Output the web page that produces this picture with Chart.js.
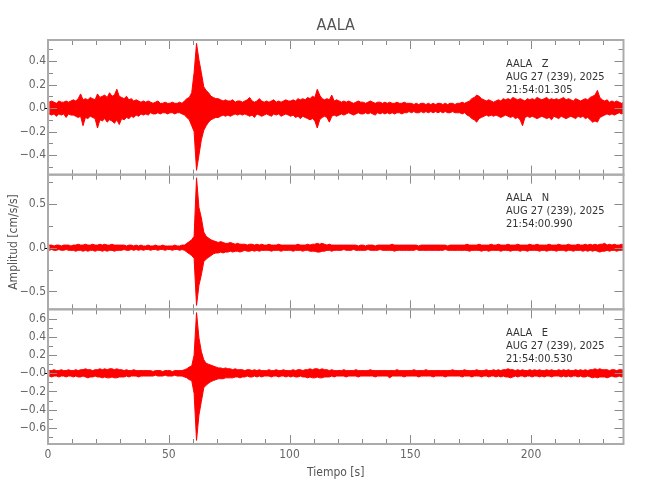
<!DOCTYPE html>
<html>
<head>
<meta charset="utf-8">
<script src="https://cdn.jsdelivr.net/npm/chart.js@4.4.1/dist/chart.umd.min.js"></script>
<style>
  html, body { margin: 0; padding: 0; background: #fff; }
  #wrap { width: 650px; height: 500px; }
</style>
</head>
<body>
<div id="wrap"><canvas id="seis" width="650" height="500"></canvas></div>
<script>
// station / header text
const station = "AALA";
const components = ["Z", "N", "E"];
const dateLabel = "AUG 27 (239), 2025";
const startTimes = ["21:54:01.305", "21:54:00.990", "21:54:00.530"];

// time axis (s)
const timeMax = 238.3;
const xTicks = [0, 10, 20, 30, 40, 50, 60, 70, 80, 90, 100, 110, 120, 130, 140, 150, 160, 170, 180, 190, 200, 210, 220, 230];
const xTickLabels = [0, 50, 100, 150, 200];

// amplitude axes (cm/s/s)
const zRange = [-0.567, 0.579];
const zTicks = [-0.5, -0.4, -0.3, -0.2, -0.1, 0, 0.1, 0.2, 0.3, 0.4, 0.5];
const zTickLabels = ["", "\u22120.4", "", "\u22120.2", "", "0.0", "", "0.2", "", "0.4", ""];
const nRange = [-0.705, 0.836];
const nTicks = [-0.5, -0.25, 0, 0.25, 0.5, 0.75];
const nTickLabels = ["\u22120.5", "", "0.0", "", "0.5", ""];
const eRange = [-0.78, 0.706];
const eTicks = [-0.7, -0.6, -0.5, -0.4, -0.3, -0.2, -0.1, 0, 0.1, 0.2, 0.3, 0.4, 0.5, 0.6];
const eTickLabels = ["", "\u22120.6", "", "\u22120.4", "", "\u22120.2", "", "\u22120.0", "", "0.2", "", "0.4", "", "0.6"];

// max / min of the trace in each 1 s window (0..238 s)
const zHi = [
  0.05,0.06,0.05,0.04,0.06,0.05,0.05,0.06,0.05,0.06,
  0.07,0.06,0.08,0.12,0.07,0.08,0.07,0.09,0.08,0.07,
  0.12,0.09,0.10,0.11,0.09,0.13,0.10,0.11,0.16,0.10,
  0.09,0.08,0.10,0.07,0.08,0.06,0.07,0.06,0.05,0.06,
  0.05,0.06,0.05,0.04,0.05,0.06,0.04,0.04,0.05,0.04,
  0.04,0.05,0.04,0.04,0.05,0.04,0.06,0.08,0.09,0.13,
  0.30,0.55,0.41,0.30,0.18,0.15,0.13,0.10,0.09,0.08,
  0.08,0.07,0.06,0.07,0.06,0.06,0.07,0.05,0.06,0.06,
  0.05,0.06,0.07,0.09,0.06,0.05,0.06,0.08,0.06,0.05,
  0.06,0.05,0.06,0.07,0.05,0.06,0.05,0.06,0.07,0.06,
  0.06,0.07,0.06,0.08,0.07,0.08,0.07,0.09,0.08,0.10,
  0.09,0.16,0.11,0.08,0.07,0.08,0.07,0.11,0.06,0.07,
  0.06,0.05,0.06,0.05,0.06,0.05,0.04,0.05,0.06,0.05,
  0.05,0.04,0.05,0.06,0.05,0.04,0.05,0.05,0.04,0.05,
  0.04,0.05,0.04,0.04,0.05,0.04,0.04,0.05,0.04,0.04,
  0.04,0.03,0.04,0.03,0.04,0.04,0.03,0.04,0.03,0.04,
  0.03,0.04,0.04,0.03,0.04,0.03,0.04,0.04,0.03,0.04,
  0.04,0.05,0.04,0.05,0.06,0.08,0.09,0.11,0.10,0.08,
  0.07,0.06,0.07,0.06,0.05,0.06,0.07,0.06,0.08,0.07,
  0.08,0.07,0.09,0.08,0.07,0.08,0.07,0.06,0.08,0.07,
  0.08,0.07,0.09,0.08,0.07,0.08,0.09,0.07,0.08,0.07,
  0.08,0.07,0.08,0.09,0.07,0.08,0.07,0.06,0.08,0.07,
  0.06,0.07,0.08,0.07,0.09,0.10,0.11,0.15,0.09,0.07,
  0.06,0.07,0.05,0.06,0.05,0.06,0.05,0.04,0.05
];
const zLo = [
  -0.05,-0.06,-0.05,-0.07,-0.05,-0.06,-0.05,-0.08,-0.05,-0.06,
  -0.06,-0.07,-0.08,-0.07,-0.15,-0.08,-0.09,-0.07,-0.08,-0.09,
  -0.17,-0.10,-0.11,-0.09,-0.12,-0.10,-0.11,-0.13,-0.10,-0.14,
  -0.09,-0.10,-0.08,-0.09,-0.07,-0.08,-0.06,-0.07,-0.05,-0.06,
  -0.05,-0.06,-0.04,-0.05,-0.05,-0.04,-0.05,-0.04,-0.04,-0.05,
  -0.04,-0.04,-0.05,-0.04,-0.04,-0.05,-0.06,-0.08,-0.10,-0.15,
  -0.20,-0.53,-0.40,-0.27,-0.19,-0.15,-0.12,-0.10,-0.09,-0.08,
  -0.08,-0.07,-0.06,-0.07,-0.06,-0.07,-0.06,-0.05,-0.06,-0.05,
  -0.06,-0.05,-0.06,-0.07,-0.06,-0.08,-0.05,-0.06,-0.07,-0.06,
  -0.05,-0.06,-0.07,-0.05,-0.06,-0.05,-0.07,-0.06,-0.05,-0.06,
  -0.07,-0.06,-0.08,-0.07,-0.09,-0.07,-0.08,-0.09,-0.10,-0.09,
  -0.11,-0.17,-0.10,-0.08,-0.07,-0.08,-0.12,-0.07,-0.06,-0.07,
  -0.06,-0.05,-0.06,-0.05,-0.04,-0.05,-0.06,-0.05,-0.04,-0.05,
  -0.05,-0.04,-0.05,-0.04,-0.05,-0.06,-0.04,-0.05,-0.04,-0.05,
  -0.04,-0.05,-0.04,-0.05,-0.04,-0.04,-0.05,-0.04,-0.04,-0.03,
  -0.04,-0.03,-0.04,-0.04,-0.03,-0.04,-0.03,-0.04,-0.03,-0.04,
  -0.03,-0.04,-0.03,-0.04,-0.03,-0.04,-0.04,-0.03,-0.04,-0.04,
  -0.04,-0.05,-0.04,-0.06,-0.07,-0.09,-0.10,-0.12,-0.09,-0.08,
  -0.07,-0.06,-0.07,-0.06,-0.07,-0.06,-0.07,-0.08,-0.07,-0.06,
  -0.07,-0.08,-0.07,-0.09,-0.08,-0.10,-0.15,-0.08,-0.07,-0.08,
  -0.07,-0.08,-0.09,-0.08,-0.07,-0.08,-0.09,-0.08,-0.10,-0.07,
  -0.08,-0.09,-0.07,-0.08,-0.09,-0.08,-0.07,-0.08,-0.09,-0.07,
  -0.08,-0.07,-0.09,-0.08,-0.10,-0.12,-0.11,-0.12,-0.08,-0.07,
  -0.06,-0.05,-0.06,-0.05,-0.06,-0.05,-0.04,-0.05,-0.04
];
const nHi = [
  0.03,0.03,0.02,0.03,0.03,0.02,0.03,0.03,0.03,0.02,
  0.03,0.03,0.04,0.03,0.03,0.04,0.03,0.03,0.04,0.03,
  0.03,0.04,0.03,0.04,0.03,0.03,0.04,0.03,0.03,0.03,
  0.03,0.03,0.02,0.03,0.03,0.02,0.03,0.02,0.03,0.02,
  0.02,0.03,0.02,0.02,0.03,0.02,0.02,0.03,0.02,0.02,
  0.02,0.02,0.03,0.02,0.02,0.03,0.03,0.05,0.07,0.09,
  0.13,0.80,0.46,0.34,0.18,0.13,0.11,0.09,0.08,0.07,
  0.06,0.07,0.06,0.05,0.05,0.06,0.05,0.04,0.05,0.04,
  0.04,0.04,0.03,0.04,0.04,0.03,0.04,0.03,0.04,0.03,
  0.03,0.04,0.03,0.03,0.03,0.04,0.03,0.03,0.03,0.03,
  0.03,0.03,0.03,0.04,0.03,0.03,0.03,0.04,0.03,0.04,
  0.04,0.05,0.04,0.05,0.04,0.03,0.04,0.03,0.03,0.03,
  0.03,0.03,0.03,0.03,0.03,0.03,0.03,0.03,0.02,0.03,
  0.03,0.02,0.03,0.03,0.03,0.02,0.03,0.03,0.03,0.03,
  0.03,0.03,0.04,0.03,0.03,0.03,0.03,0.03,0.03,0.03,
  0.03,0.03,0.03,0.02,0.03,0.03,0.03,0.03,0.03,0.03,
  0.03,0.03,0.03,0.03,0.03,0.02,0.03,0.03,0.03,0.03,
  0.03,0.03,0.03,0.04,0.03,0.03,0.03,0.03,0.04,0.03,
  0.03,0.03,0.03,0.04,0.03,0.03,0.04,0.03,0.03,0.03,
  0.04,0.03,0.03,0.03,0.04,0.03,0.03,0.03,0.03,0.04,
  0.03,0.03,0.04,0.03,0.03,0.03,0.03,0.04,0.03,0.03,
  0.03,0.04,0.03,0.03,0.03,0.04,0.03,0.03,0.03,0.04,
  0.03,0.03,0.04,0.03,0.04,0.03,0.04,0.03,0.04,0.04,
  0.05,0.03,0.04,0.03,0.04,0.03,0.03,0.04,0.03
];
const nLo = [
  -0.03,-0.02,-0.03,-0.03,-0.02,-0.03,-0.03,-0.02,-0.03,-0.03,
  -0.03,-0.04,-0.03,-0.03,-0.04,-0.03,-0.04,-0.03,-0.03,-0.04,
  -0.03,-0.03,-0.04,-0.03,-0.04,-0.03,-0.03,-0.04,-0.03,-0.03,
  -0.03,-0.02,-0.03,-0.03,-0.02,-0.03,-0.02,-0.03,-0.02,-0.03,
  -0.02,-0.02,-0.03,-0.02,-0.02,-0.03,-0.02,-0.02,-0.03,-0.02,
  -0.02,-0.03,-0.02,-0.02,-0.03,-0.02,-0.03,-0.05,-0.07,-0.09,
  -0.12,-0.66,-0.43,-0.31,-0.16,-0.13,-0.11,-0.09,-0.07,-0.06,
  -0.06,-0.05,-0.06,-0.05,-0.05,-0.04,-0.05,-0.04,-0.04,-0.05,
  -0.04,-0.03,-0.04,-0.04,-0.03,-0.04,-0.03,-0.04,-0.03,-0.03,
  -0.03,-0.03,-0.04,-0.03,-0.03,-0.03,-0.04,-0.03,-0.03,-0.03,
  -0.03,-0.04,-0.03,-0.03,-0.03,-0.04,-0.03,-0.03,-0.04,-0.04,
  -0.04,-0.05,-0.05,-0.04,-0.04,-0.03,-0.03,-0.04,-0.03,-0.03,
  -0.03,-0.03,-0.02,-0.03,-0.03,-0.03,-0.02,-0.03,-0.03,-0.03,
  -0.03,-0.03,-0.02,-0.03,-0.03,-0.03,-0.03,-0.02,-0.03,-0.03,
  -0.03,-0.03,-0.03,-0.04,-0.03,-0.03,-0.03,-0.03,-0.03,-0.03,
  -0.03,-0.03,-0.02,-0.03,-0.03,-0.03,-0.03,-0.03,-0.03,-0.03,
  -0.03,-0.03,-0.03,-0.03,-0.02,-0.03,-0.03,-0.03,-0.03,-0.03,
  -0.03,-0.03,-0.03,-0.03,-0.04,-0.03,-0.03,-0.03,-0.03,-0.04,
  -0.03,-0.03,-0.04,-0.03,-0.03,-0.03,-0.03,-0.04,-0.03,-0.03,
  -0.03,-0.04,-0.03,-0.03,-0.03,-0.04,-0.03,-0.03,-0.04,-0.03,
  -0.03,-0.03,-0.03,-0.04,-0.03,-0.03,-0.04,-0.03,-0.03,-0.03,
  -0.04,-0.03,-0.03,-0.03,-0.04,-0.03,-0.03,-0.04,-0.03,-0.03,
  -0.03,-0.04,-0.03,-0.04,-0.03,-0.04,-0.03,-0.04,-0.05,-0.04,
  -0.04,-0.03,-0.04,-0.03,-0.03,-0.04,-0.03,-0.03,-0.03
];
const eHi = [
  0.03,0.03,0.04,0.03,0.03,0.04,0.03,0.03,0.04,0.03,
  0.03,0.04,0.03,0.04,0.04,0.05,0.04,0.04,0.03,0.04,
  0.04,0.05,0.04,0.05,0.04,0.05,0.05,0.04,0.05,0.04,
  0.04,0.03,0.04,0.03,0.03,0.04,0.03,0.03,0.03,0.03,
  0.03,0.03,0.03,0.02,0.03,0.03,0.03,0.02,0.03,0.03,
  0.03,0.02,0.03,0.03,0.03,0.03,0.04,0.05,0.07,0.08,
  0.20,0.67,0.39,0.24,0.15,0.11,0.10,0.09,0.08,0.07,
  0.06,0.06,0.05,0.06,0.05,0.05,0.04,0.05,0.04,0.04,
  0.04,0.03,0.04,0.04,0.03,0.04,0.03,0.04,0.03,0.03,
  0.03,0.04,0.03,0.03,0.04,0.03,0.03,0.04,0.03,0.03,
  0.03,0.04,0.03,0.04,0.04,0.03,0.04,0.04,0.05,0.04,
  0.05,0.05,0.04,0.05,0.04,0.04,0.03,0.04,0.03,0.03,
  0.03,0.03,0.04,0.03,0.03,0.03,0.03,0.04,0.03,0.03,
  0.03,0.03,0.03,0.04,0.03,0.03,0.03,0.03,0.03,0.03,
  0.03,0.03,0.03,0.03,0.04,0.03,0.03,0.03,0.03,0.03,
  0.03,0.04,0.03,0.03,0.03,0.03,0.04,0.03,0.03,0.03,
  0.03,0.03,0.03,0.03,0.03,0.03,0.03,0.04,0.03,0.03,
  0.03,0.03,0.04,0.03,0.03,0.03,0.03,0.04,0.03,0.03,
  0.03,0.04,0.03,0.03,0.04,0.03,0.04,0.03,0.04,0.04,
  0.05,0.04,0.04,0.03,0.04,0.03,0.04,0.03,0.03,0.04,
  0.03,0.04,0.03,0.04,0.03,0.03,0.04,0.03,0.04,0.03,
  0.03,0.04,0.03,0.04,0.03,0.04,0.03,0.03,0.04,0.03,
  0.04,0.03,0.04,0.03,0.04,0.04,0.05,0.04,0.05,0.04,
  0.04,0.04,0.03,0.04,0.04,0.03,0.04,0.04,0.03
];
const eLo = [
  -0.03,-0.04,-0.03,-0.03,-0.04,-0.03,-0.03,-0.04,-0.03,-0.03,
  -0.04,-0.03,-0.04,-0.04,-0.03,-0.04,-0.05,-0.04,-0.04,-0.03,
  -0.04,-0.04,-0.05,-0.04,-0.05,-0.05,-0.04,-0.05,-0.05,-0.04,
  -0.04,-0.04,-0.03,-0.04,-0.03,-0.03,-0.03,-0.04,-0.03,-0.03,
  -0.03,-0.03,-0.03,-0.03,-0.02,-0.03,-0.03,-0.03,-0.02,-0.03,
  -0.03,-0.03,-0.02,-0.03,-0.03,-0.03,-0.04,-0.05,-0.07,-0.08,
  -0.22,-0.74,-0.46,-0.31,-0.16,-0.13,-0.11,-0.09,-0.08,-0.07,
  -0.06,-0.06,-0.06,-0.05,-0.05,-0.05,-0.05,-0.04,-0.04,-0.05,
  -0.04,-0.04,-0.03,-0.04,-0.04,-0.03,-0.04,-0.03,-0.04,-0.03,
  -0.03,-0.03,-0.04,-0.03,-0.03,-0.04,-0.03,-0.03,-0.04,-0.03,
  -0.04,-0.03,-0.04,-0.04,-0.03,-0.04,-0.04,-0.05,-0.04,-0.05,
  -0.05,-0.04,-0.05,-0.05,-0.04,-0.04,-0.04,-0.03,-0.04,-0.03,
  -0.03,-0.03,-0.03,-0.04,-0.03,-0.03,-0.03,-0.03,-0.04,-0.03,
  -0.03,-0.03,-0.03,-0.03,-0.03,-0.04,-0.03,-0.03,-0.03,-0.03,
  -0.03,-0.05,-0.03,-0.03,-0.03,-0.03,-0.03,-0.04,-0.03,-0.03,
  -0.03,-0.03,-0.03,-0.04,-0.03,-0.03,-0.03,-0.03,-0.03,-0.04,
  -0.03,-0.03,-0.03,-0.03,-0.04,-0.03,-0.03,-0.03,-0.03,-0.03,
  -0.03,-0.04,-0.03,-0.03,-0.03,-0.04,-0.03,-0.03,-0.03,-0.04,
  -0.03,-0.03,-0.04,-0.03,-0.03,-0.04,-0.03,-0.04,-0.03,-0.04,
  -0.04,-0.05,-0.04,-0.03,-0.04,-0.03,-0.03,-0.04,-0.03,-0.03,
  -0.04,-0.03,-0.03,-0.04,-0.03,-0.04,-0.03,-0.03,-0.04,-0.03,
  -0.03,-0.03,-0.04,-0.03,-0.04,-0.03,-0.04,-0.03,-0.03,-0.04,
  -0.03,-0.04,-0.04,-0.03,-0.04,-0.05,-0.04,-0.05,-0.04,-0.04,
  -0.04,-0.05,-0.04,-0.03,-0.04,-0.04,-0.03,-0.04,-0.03
];

const FONT = '"DejaVu Sans Condensed", "Liberation Sans Narrow", sans-serif';
const panelIds = ["yZ", "yN", "yE"];

// points at the middle of each 1 s window
const toPoints = arr => arr.map((v, i) => ({ x: i + 0.5, y: v }));

function panelAxis(range, ticks, labels, weight) {
  return {
    type: "linear",
    position: "left",
    stack: "panels",
    stackWeight: 1,
    weight: weight,
    min: range[0],
    max: range[1],
    grid: { display: false, drawTicks: false },
    border: { display: false },
    afterBuildTicks: s => { s.ticks = ticks.map(v => ({ value: v })); },
    afterFit: s => { s.width = 48; },
    ticks: {
      autoSkip: false,
      padding: 2,
      color: "#666",
      font: { family: FONT, size: 12 },
      callback: (v, i) => labels[i]
    }
  };
}

const seisDecor = {
  id: "seisDecor",
  beforeDatasetsDraw(chart) {
    const { ctx, chartArea: a, scales } = chart;
    ctx.save();
    ctx.strokeStyle = "#000";
    ctx.lineWidth = 1;
    panelIds.forEach(id => {
      const y = Math.round(scales[id].getPixelForValue(0)) + 0.5;
      ctx.beginPath();
      ctx.moveTo(a.left - 3, y);
      ctx.lineTo(a.right, y);
      ctx.stroke();
    });
    ctx.restore();
  },
  afterDraw(chart) {
    const { ctx, chartArea: a, scales } = chart;
    const xs = scales.x;
    ctx.save();
    panelIds.forEach((id, p) => {
      const ys = scales[id];
      const top = ys.top, bottom = ys.bottom;

      ctx.strokeStyle = "#8a8a8a";
      ctx.lineWidth = 1;
      ctx.beginPath();
      ys.ticks.forEach(t => {
        const y = Math.round(ys.getPixelForValue(t.value)) + 0.5;
        const len = t.label ? 9 : 5;
        ctx.moveTo(a.left, y); ctx.lineTo(a.left + len, y);
        ctx.moveTo(a.right - len, y); ctx.lineTo(a.right, y);
      });
      xs.ticks.forEach(t => {
        const x = Math.round(xs.getPixelForValue(t.value)) + 0.5;
        const len = xTickLabels.includes(t.value) ? 9 : 5;
        ctx.moveTo(x, top); ctx.lineTo(x, top + len);
        ctx.moveTo(x, bottom - len); ctx.lineTo(x, bottom);
      });
      ctx.stroke();

      ctx.strokeStyle = "#ababab";
      ctx.lineWidth = 2;
      ctx.strokeRect(a.left, top, a.right - a.left, bottom - top);

      // station header in each panel
      ctx.fillStyle = "#333";
      ctx.font = "11px " + FONT;
      ctx.textAlign = "left";
      ctx.textBaseline = "alphabetic";
      ctx.fillText(station + "   " + components[p], 506, top + 26.5);
      ctx.fillText(dateLabel, 506, top + 39.5);
      ctx.fillText(startTimes[p], 506, top + 52.5);
    });

    const cx = (a.left + a.right) / 2;
    ctx.fillStyle = "#555";
    ctx.textAlign = "center";
    ctx.font = "16px " + FONT;
    ctx.fillText(station, cx, 30);

    ctx.font = "12px " + FONT;
    ctx.fillText("Tiempo [s]", cx, 476);

    ctx.translate(17, (scales.yN.top + scales.yN.bottom) / 2);
    ctx.rotate(-Math.PI / 2);
    ctx.fillText("Amplitud [cm/s/s]", 0, 0);
    ctx.restore();
  }
};

// upper envelope filled down to the lower envelope
const band = (hi, lo, axis) => [
  {
    data: toPoints(hi),
    yAxisID: axis,
    borderColor: "#ff0000",
    backgroundColor: "#ff0000",
    borderWidth: 1,
    pointRadius: 0,
    tension: 0,
    fill: "+1"
  },
  {
    data: toPoints(lo),
    yAxisID: axis,
    borderColor: "#ff0000",
    backgroundColor: "#ff0000",
    borderWidth: 1,
    pointRadius: 0,
    tension: 0,
    fill: false
  }
];

new Chart(document.getElementById("seis"), {
  type: "line",
  data: {
    datasets: [
      ...band(zHi, zLo, "yZ"),
      ...band(nHi, nLo, "yN"),
      ...band(eHi, eLo, "yE")
    ]
  },
  options: {
    responsive: false,
    animation: false,
    devicePixelRatio: 1,
    parsing: false,
    normalized: true,
    layout: { padding: { top: 40, right: 26.5, left: 0, bottom: 0 } },
    plugins: {
      legend: { display: false },
      tooltip: { enabled: false },
      title: { display: false },
      filler: { propagate: false }
    },
    scales: {
      x: {
        type: "linear",
        position: "bottom",
        min: 0,
        max: timeMax,
        grid: { display: false, drawTicks: false },
        border: { display: false },
        afterBuildTicks: s => { s.ticks = xTicks.map(v => ({ value: v })); },
        afterFit: s => { s.height = 56; },
        ticks: {
          autoSkip: false,
          maxRotation: 0,
          padding: 4,
          color: "#666",
          font: { family: FONT, size: 12 },
          callback: v => (xTickLabels.includes(v) ? String(v) : "")
        }
      },
      yZ: panelAxis(zRange, zTicks, zTickLabels, 3),
      yN: panelAxis(nRange, nTicks, nTickLabels, 2),
      yE: panelAxis(eRange, eTicks, eTickLabels, 1)
    }
  },
  plugins: [seisDecor]
});
</script>
</body>
</html>
